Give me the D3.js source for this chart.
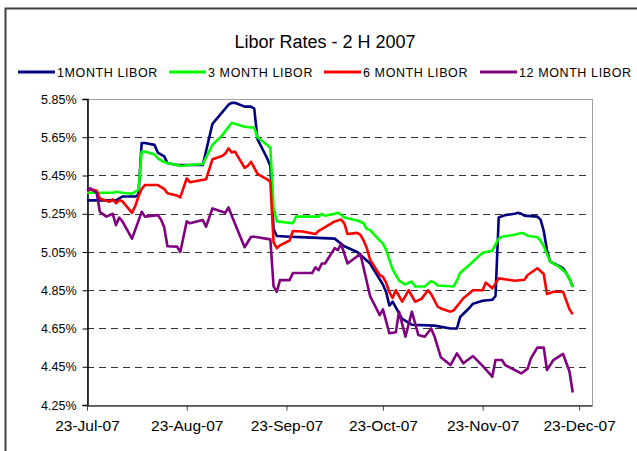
<!DOCTYPE html>
<html>
<head>
<meta charset="utf-8">
<script src="https://cdnjs.cloudflare.com/ajax/libs/d3/7.8.5/d3.min.js"></script>
<style>
  body { margin: 0; background: #fff; }
  svg { display: block; font-family: Arial, "Liberation Sans", sans-serif; }
</style>
</head>
<body>
<script>
'use strict';

// dates are month/day in 2007, rates in percent
var oneMonthDates = ["7/23","8/1","8/3","8/7","8/8","8/9","8/10","8/13","8/14","8/16","8/17","8/20","8/28","8/31",
   "9/3","9/5","9/6","9/7","9/10","9/12","9/13","9/14","9/17","9/18","9/19","9/20","9/24","10/1","10/8","10/11",
   "10/15","10/19","10/23","10/24","10/25","10/26","10/29","11/1","11/8","11/13","11/15","11/16","11/19","11/20",
   "11/23","11/26","11/27","11/28","11/30","12/3","12/4","12/5","12/6","12/10","12/11","12/12","12/13","12/14",
   "12/17","12/18","12/19","12/20","12/21"];
var oneMonthRates = [5.32,5.32,5.34,5.34,5.35,5.62,5.62,5.61,5.57,5.55,5.515,5.505,5.505,5.72,
   5.78,5.82,5.83,5.83,5.81,5.81,5.80,5.64,5.54,5.50,5.17,5.134,5.13,5.125,5.12,5.08,
   5.05,4.99,4.88,4.84,4.77,4.79,4.70,4.67,4.665,4.65,4.65,4.71,4.76,4.78,
   4.795,4.80,4.82,5.23,5.243,5.25,5.255,5.25,5.24,5.235,5.22,5.16,5.06,5.00,
   4.975,4.965,4.94,4.91,4.87];

var threeMonthDates = ["7/23","7/31","8/1","8/3","8/6","8/8","8/9","8/10","8/13","8/14","8/16","8/17","8/20","8/21",
   "8/24","8/28","8/31","9/3","9/6","9/10","9/13","9/14","9/17","9/18","9/19","9/20","9/25","9/26","10/3","10/4",
   "10/5","10/8","10/9","10/10","10/11","10/12","10/15","10/17","10/18","10/19","10/22","10/23","10/24","10/25",
   "10/26","10/28","10/30","10/31","11/1","11/2","11/5","11/7","11/8","11/9","11/14","11/15","11/16","11/19",
   "11/20","11/23","11/26","11/27","11/28","11/29","12/3","12/5","12/6","12/7","12/10","12/11","12/12","12/13",
   "12/14","12/17","12/18","12/19","12/20","12/21"];
var threeMonthRates = [5.36,5.36,5.365,5.36,5.355,5.375,5.575,5.575,5.56,5.54,5.52,5.515,5.505,5.50,
   5.505,5.51,5.61,5.66,5.726,5.705,5.70,5.65,5.61,5.594,5.287,5.21,5.20,5.235,5.235,5.249,
   5.24,5.25,5.255,5.245,5.23,5.226,5.215,5.20,5.17,5.165,5.11,5.095,5.06,5.01,
   4.96,4.90,4.88,4.89,4.895,4.87,4.87,4.898,4.89,4.875,4.87,4.90,4.94,4.985,
   5.00,5.046,5.057,5.09,5.12,5.13,5.14,5.15,5.145,5.135,5.127,5.11,5.08,5.04,
   5.00,4.97,4.955,4.94,4.91,4.865];

var sixMonthDates = ["7/23","7/25","7/26","7/27","7/30","7/31","8/1","8/2","8/3","8/6","8/7","8/8","8/9","8/10","8/14",
   "8/16","8/17","8/20","8/21","8/23","8/24","8/29","8/31","9/3","9/4","9/5","9/6","9/7","9/10","9/11","9/12",
   "9/14","9/17","9/18","9/19","9/20","9/21","9/24","9/25","9/28","10/2","10/3","10/4","10/8","10/10","10/11",
   "10/12","10/15","10/16","10/17","10/18","10/19","10/22","10/23","10/24","10/25","10/26","10/27","10/29",
   "10/31","11/2","11/4","11/6","11/7","11/9","11/10","11/13","11/14","11/17","11/20","11/23","11/24","11/26",
   "11/28","12/3","12/6","12/7","12/10","12/12","12/13","12/15","12/18","12/20","12/21"];
var sixMonthRates = [5.375,5.375,5.37,5.33,5.313,5.325,5.305,5.32,5.315,5.255,5.29,5.34,5.38,5.40,5.40,
   5.38,5.357,5.345,5.336,5.435,5.415,5.43,5.535,5.552,5.565,5.592,5.57,5.575,5.49,5.50,5.522,
   5.458,5.43,5.418,5.10,5.07,5.085,5.11,5.16,5.157,5.144,5.16,5.17,5.21,5.22,5.20,
   5.144,5.15,5.14,5.11,5.07,5.01,4.93,4.92,4.89,4.84,4.81,4.85,4.79,
   4.85,4.79,4.805,4.85,4.83,4.765,4.755,4.738,4.745,4.808,4.85,4.85,4.89,4.86,
   4.912,4.90,4.905,4.93,4.965,4.935,4.83,4.842,4.842,4.75,4.725];

var twelveMonthDates = ["7/23","7/24","7/26","7/27","7/29","7/31","8/1","8/2","8/3","8/6","8/9","8/10","8/14","8/15",
   "8/16","8/17","8/20","8/21","8/23","8/24","8/28","8/29","8/31","9/4","9/5","9/6","9/10","9/12","9/13","9/18",
   "9/19","9/20","9/21","9/24","9/25","10/1","10/2","10/3","10/4","10/5","10/8","10/9","10/10","10/12","10/16",
   "10/19","10/22","10/23","10/25","10/27","10/28","10/30","11/1","11/3","11/5","11/7","11/8","11/10","11/13",
   "11/15","11/17","11/20","11/23","11/26","11/27","11/29","11/30","12/5","12/7","12/8","12/10","12/12","12/13",
   "12/15","12/18","12/20","12/21"];
var twelveMonthRates = [5.37,5.383,5.36,5.26,5.235,5.25,5.19,5.23,5.21,5.12,5.26,5.235,5.243,5.22,
   5.18,5.08,5.078,5.05,5.21,5.20,5.217,5.182,5.278,5.255,5.283,5.24,5.075,5.13,5.13,5.116,
   4.87,4.842,4.903,4.903,4.94,4.94,4.97,4.955,4.99,4.99,5.07,5.06,5.092,4.99,5.04,
   4.82,4.72,4.75,4.625,4.63,4.738,4.607,4.738,4.616,4.607,4.65,4.61,4.50,4.459,
   4.52,4.468,4.506,4.455,4.398,4.485,4.485,4.459,4.415,4.44,4.494,4.55,4.55,4.433,
   4.485,4.517,4.425,4.315];

var seriesNames = ["1MONTH LIBOR", "3 MONTH LIBOR", "6 MONTH LIBOR", "12 MONTH LIBOR"];
var seriesColors = ["#000080", "#00ff00", "#ff0000", "#800080"];
var xTickDates = ["7/23","8/23","9/23","10/23","11/23","12/23"];
var yTickValues = [4.25, 4.45, 4.65, 4.85, 5.05, 5.25, 5.45, 5.65, 5.85];

window.onload = function(){

   var parseDate = function(s){ return d3.timeParse("%m/%d/%Y")(s + "/2007"); };

   function makeSeries(dates, rates){
      return dates.map(function(d, i){ return {date: parseDate(d), rate: rates[i]}; });
   }

   var allSeries = [
      makeSeries(oneMonthDates, oneMonthRates),
      makeSeries(threeMonthDates, threeMonthRates),
      makeSeries(sixMonthDates, sixMonthRates),
      makeSeries(twelveMonthDates, twelveMonthRates)
   ];

   var left = 87, right = 592, top = 99, bottom = 405;

   var svg = d3.select("body").append("svg")
      .attr("width", 637)
      .attr("height", 451);

   // outer chart frame (only left and top are inside the window)
   svg.append("rect")
      .attr("x", 5.5)
      .attr("y", 8.5)
      .attr("width", 700)
      .attr("height", 500)
      .attr("fill", "none")
      .attr("stroke", "#404040")
      .attr("stroke-width", 2);

   svg.append("text")
      .attr("x", 325)
      .attr("y", 48)
      .attr("text-anchor", "middle")
      .style("font-size", "18px")
      .text("Libor Rates - 2 H 2007");

   var xScale = d3.scaleTime()
      .domain([parseDate("7/23"), parseDate("12/27")])
      .range([left, right]);

   var yScale = d3.scaleLinear()
      .domain([4.25, 5.85])
      .range([bottom, top]);

   // plot area border
   svg.append("rect")
      .attr("x", left + 0.5)
      .attr("y", top + 0.5)
      .attr("width", right - left)
      .attr("height", bottom - top)
      .attr("fill", "none")
      .attr("stroke", "#a0a0a0")
      .attr("stroke-width", 1);

   // dashed gridlines
   svg.append("g").selectAll("line")
      .data(yTickValues.slice(1, -1))
      .enter()
      .append("line")
      .attr("x1", left)
      .attr("x2", right - 4)
      .attr("y1", function(d){ return Math.round(yScale(d)) + 0.5; })
      .attr("y2", function(d){ return Math.round(yScale(d)) + 0.5; })
      .attr("stroke", "#333")
      .attr("stroke-dasharray", "7,5");

   var yAxis = d3.axisLeft(yScale)
      .tickValues(yTickValues)
      .tickSize(5)
      .tickFormat(function(d){ return d.toFixed(2) + "%"; });

   var yAxisG = svg.append("g")
      .attr("transform", "translate(" + (left + 0.5) + ",0)")
      .call(yAxis);
   yAxisG.select(".domain").attr("stroke", "#000").attr("stroke-width", 1.5);
   yAxisG.selectAll(".tick line").attr("stroke", "#000");
   yAxisG.selectAll(".tick text")
      .attr("x", -11)
      .style("font-size", "12.5px")
      .style("font-family", "Arial, 'Liberation Sans', sans-serif")
      .attr("fill", "#000");

   var xAxis = d3.axisBottom(xScale)
      .tickValues(xTickDates.map(parseDate))
      .tickSize(5)
      .tickSizeOuter(0)
      .tickFormat(d3.timeFormat("%d-%b-%y"));

   var xAxisG = svg.append("g")
      .attr("transform", "translate(0," + (bottom + 0.5) + ")")
      .call(xAxis);
   xAxisG.select(".domain").attr("stroke", "#404040").attr("stroke-width", 1.5);
   xAxisG.selectAll(".tick line").attr("stroke", "#404040");
   xAxisG.selectAll(".tick text")
      .attr("y", 14)
      .style("font-size", "15.5px")
      .style("font-family", "Arial, 'Liberation Sans', sans-serif")
      .attr("fill", "#000");

   var lineFunction = d3.line()
      .x(function(d){ return xScale(d.date); })
      .y(function(d){ return yScale(d.rate); });

   svg.append("g").selectAll("path")
      .data(allSeries)
      .enter()
      .append("path")
      .attr("d", lineFunction)
      .attr("fill", "none")
      .attr("stroke", function(d, i){ return seriesColors[i]; })
      .attr("stroke-width", 2.6)
      .attr("stroke-linejoin", "round");

   // legend
   var legendX = [18, 169, 324, 480];
   var legend = svg.append("g").selectAll("g")
      .data(seriesNames)
      .enter()
      .append("g")
      .attr("transform", function(d, i){ return "translate(" + legendX[i] + ",72)"; });

   legend.append("line")
      .attr("x1", 0)
      .attr("x2", 37)
      .attr("stroke", function(d, i){ return seriesColors[i]; })
      .attr("stroke-width", 3);

   legend.append("text")
      .attr("x", 39)
      .attr("y", 4.5)
      .style("font-size", "12.5px")
      .style("letter-spacing", "0.6px")
      .text(function(d){ return d; });
};
</script>
</body>
</html>
